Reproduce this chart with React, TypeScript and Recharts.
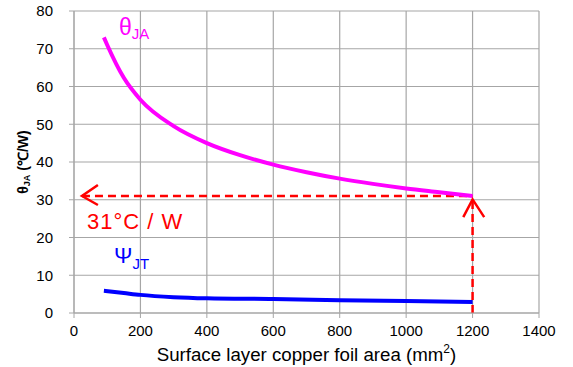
import { LineChart, Line, XAxis, YAxis, CartesianGrid, ReferenceLine, Label } from 'recharts';

// Copper foil area (mm²) vs. thermal resistance
const jaAreas = [90, 100, 150, 200, 300, 400, 500, 600, 700, 800, 900, 1000, 1100, 1200];
const thetaJA = [73, 71, 62.3, 56.5, 49.5, 45, 41.8, 39.3, 37.3, 35.6, 34.2, 33, 32, 31];

const jtAreas = [90, 150, 200, 300, 400, 600, 800, 1000, 1200];
const psiJT = [5.9, 5.3, 4.8, 4.2, 3.9, 3.7, 3.4, 3.15, 2.9];

const xTicks = [0, 200, 400, 600, 800, 1000, 1200, 1400];
const yTicks = [0, 10, 20, 30, 40, 50, 60, 70, 80];

// readout at the design point
const readArea = 1200;
const readTheta = 31;

const jaData = jaAreas.map((x, i) => ({ x, y: thetaJA[i] }));
const jtData = jtAreas.map((x, i) => ({ x, y: psiJT[i] }));

// arrow heads for the dashed readout lines
const leftHead = [
  { x: 72, y: 33.9 },
  { x: 24, y: readTheta },
  { x: 72, y: 28.6 },
];
const upHead = [
  { x: 1172, y: 25.4 },
  { x: readArea, y: 30.1 },
  { x: 1235, y: 25.4 },
];

const W = 573;
const H = 367;
const FONT = '"Liberation Sans", Arial, sans-serif';
const GRID = '#a6a6a6';
const RED = '#ff0000';

const tickStyle = { fill: '#000', fontSize: 15, fontFamily: FONT };

export default function App() {
  return (
    <div style={{ position: 'absolute', left: 0, top: 0, width: W, height: H, background: '#fff' }}>
      <LineChart width={W} height={H} margin={{ top: 11, right: 34, bottom: 0, left: 0 }}>
        <CartesianGrid stroke={GRID} strokeWidth={1.2} horizontalValues={yTicks} verticalValues={xTicks} />
        <XAxis
          dataKey="x"
          type="number"
          domain={[0, 1400]}
          ticks={xTicks}
          height={54}
          tickSize={5}
          tickMargin={7}
          stroke={GRID}
          tick={tickStyle}
          allowDuplicatedCategory={false}
        >
          <Label
            content={({ viewBox }: any) => (
              <text
                x={viewBox.x + viewBox.width / 2}
                y={viewBox.y + 48}
                textAnchor="middle"
                fontSize={18.7}
                fontFamily={FONT}
                fill="#000"
              >
                Surface layer copper foil area (mm
                <tspan fontSize={12} dy={-8}>2</tspan>
                <tspan dy={8}>)</tspan>
              </text>
            )}
          />
        </XAxis>
        <YAxis
          type="number"
          domain={[0, 80]}
          ticks={yTicks}
          width={74}
          tickSize={5}
          tickMargin={16}
          stroke={GRID}
          tick={tickStyle}
        >
          <Label
            content={({ viewBox }: any) => {
              const cx = 28;
              const cy = viewBox.y + viewBox.height / 2;
              return (
                <text
                  x={cx}
                  y={cy}
                  transform={`rotate(-90 ${cx} ${cy})`}
                  textAnchor="middle"
                  fontSize={14}
                  fontWeight="bold"
                  fontFamily={FONT}
                  fill="#000"
                >
                  θ<tspan fontSize={9} dy={2}>JA</tspan>
                  <tspan dy={-2}> (℃/W)</tspan>
                </text>
              );
            }}
          />
        </YAxis>

        <ReferenceLine
          segment={[
            { x: 24, y: readTheta },
            { x: readArea, y: readTheta },
          ]}
          stroke={RED}
          strokeWidth={2.5}
          strokeDasharray="8 5"
        />
        <ReferenceLine
          segment={[
            { x: readArea, y: 0 },
            { x: readArea, y: readTheta },
          ]}
          stroke={RED}
          strokeWidth={2.5}
          strokeDasharray="8 5"
        />

        <Line
          data={jaData}
          dataKey="y"
          type="monotone"
          stroke="#ff00ff"
          strokeWidth={4}
          dot={false}
          isAnimationActive={false}
        />
        <Line
          data={jtData}
          dataKey="y"
          type="monotone"
          stroke="#0000ff"
          strokeWidth={4}
          dot={false}
          isAnimationActive={false}
        />
        <Line
          data={leftHead}
          dataKey="y"
          type="linear"
          stroke={RED}
          strokeWidth={2.5}
          dot={false}
          isAnimationActive={false}
        />
        <Line
          data={upHead}
          dataKey="y"
          type="linear"
          stroke={RED}
          strokeWidth={2.5}
          dot={false}
          isAnimationActive={false}
        />
      </LineChart>

      <svg width={W} height={H} style={{ position: 'absolute', left: 0, top: 0, pointerEvents: 'none' }}>
        <text x={119} y={35} fill="#ff00ff" fontSize={23} fontFamily={FONT}>
          θ<tspan fontSize={15} dy={4}>JA</tspan>
        </text>
        <text x={87} y={229} fill={RED} fontSize={22} fontFamily={FONT} letterSpacing={1}>
          {`${readTheta}°C / W`}
        </text>
        <text x={114} y={263} fill="#0000ff" fontSize={22} fontFamily={FONT}>
          Ψ<tspan fontSize={15} dy={6}>JT</tspan>
        </text>
      </svg>
    </div>
  );
}
